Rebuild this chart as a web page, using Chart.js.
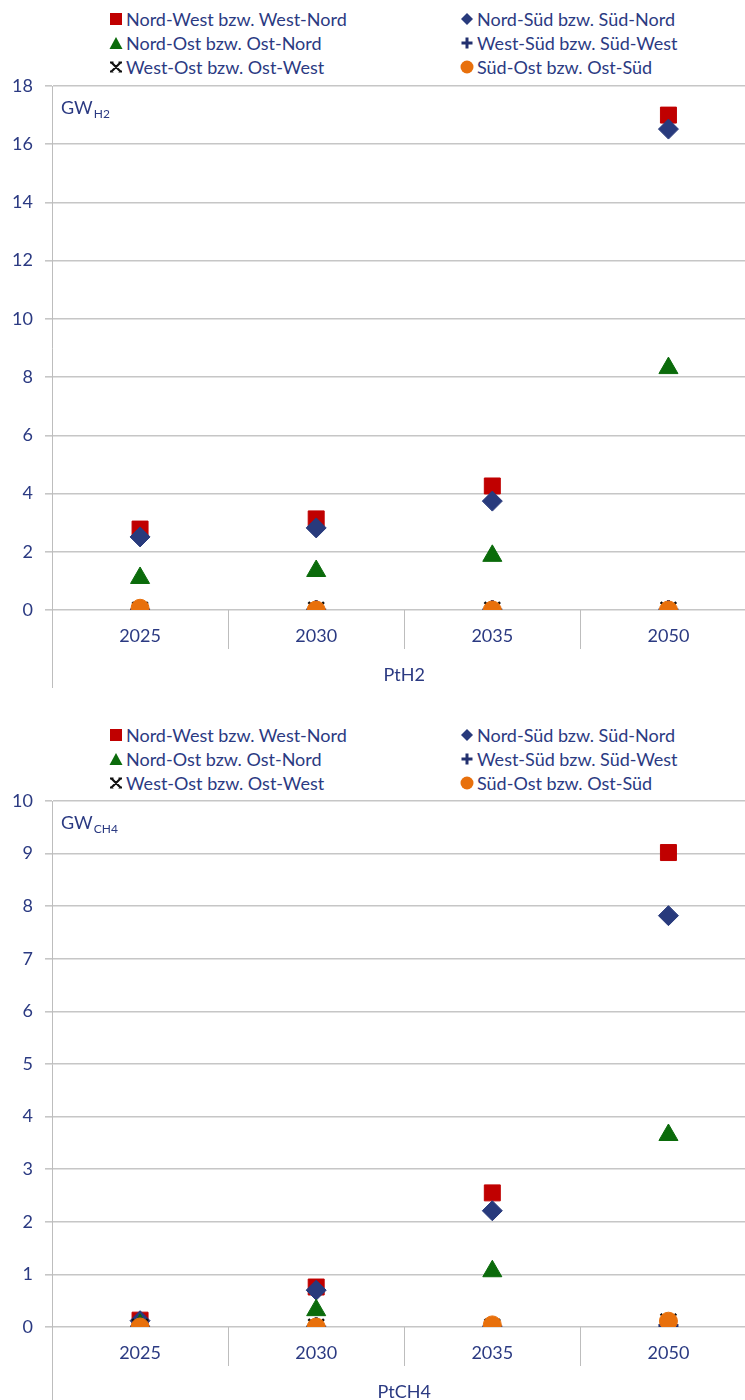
<!DOCTYPE html>
<html lang="de">
<head>
<meta charset="utf-8">
<title>PtH2 / PtCH4 – Transportkapazitäten</title>
<script src="https://cdn.jsdelivr.net/npm/chart.js@4.4.1/dist/chart.umd.min.js"></script>
<style>
  html, body { margin: 0; padding: 0; background: #ffffff; }
  body { width: 745px; height: 1400px; overflow: hidden; position: relative; font-family: Lato, "Liberation Sans", sans-serif; }
  .block { position: absolute; left: 0; width: 745px; height: 716px; overflow: hidden; }
  .block canvas { position: absolute; left: 0; top: 0; }
  .legend { position: absolute; left: 0; top: 0; width: 745px; height: 80px; }
  .item { position: absolute; height: 24px; display: flex; align-items: center; color: #2b3a82; font-size: 18px; white-space: nowrap; }
  .item svg { position: absolute; left: -17px; top: 5px; }
</style>
</head>
<body>
<div class="block" id="blockH2" style="top:0px;">
  <div class="legend" id="legendH2"></div>
  <canvas id="chartH2" width="770" height="700"></canvas>
</div>
<div class="block" id="blockCH4" style="top:716px;">
  <div class="legend" id="legendCH4"></div>
  <canvas id="chartCH4" width="770" height="700"></canvas>
</div>
<script>
// Categories (years) shared by both panels
const categories = ['2025', '2030', '2035', '2050'];

// Series names (connection between regions)
const seriesNames = [
  'Nord-West bzw. West-Nord',
  'Nord-Süd bzw. Süd-Nord',
  'Nord-Ost bzw. Ost-Nord',
  'West-Süd bzw. Süd-West',
  'West-Ost bzw. Ost-West',
  'Süd-Ost bzw. Ost-Süd'
];

// PtH2 capacities in GW (H2)
const h2NordWest = [2.78, 3.13, 4.26, 17.0];
const h2NordSued = [2.51, 2.82, 3.74, 16.52];
const h2NordOst  = [1.10, 1.34, 1.86, 8.31];
const h2WestSued = [0, 0, 0, 0];
const h2WestOst  = [0, 0, 0, 0];
const h2SuedOst  = [0.06, 0, 0, 0];

// PtCH4 capacities in GW (CH4)
const ch4NordWest = [0.13, 0.76, 2.55, 9.02];
const ch4NordSued = [0.12, 0.70, 2.21, 7.82];
const ch4NordOst  = [0.04, 0.32, 1.06, 3.65];
const ch4WestSued = [0, 0, 0, 0.03];
const ch4WestOst  = [0, 0, 0, 0.10];
const ch4SuedOst  = [0, 0, 0.04, 0.11];

// Y axis ranges / tick steps
const h2AxisMax = 18, h2AxisStep = 2;
const ch4AxisMax = 10, ch4AxisStep = 1;

const TEXT = '#2b3a82';
const FONT = 'Lato, "Liberation Sans", sans-serif';

// Marker styling per series
const markers = [
  { style: 'rect',     color: '#c00000', radius: 11.3, width: 1 },
  { style: 'rectRot',  color: '#283a7c', radius: 10,   width: 1 },
  { style: 'triangle', color: '#0b6b0b', radius: 11,   width: 1 },
  { style: 'cross',    color: '#22306f', radius: 10,   width: 3 },
  { style: 'crossRot', color: '#111111', radius: 11,   width: 2.5 },
  { style: 'circle',   color: '#e8700c', radius: 9,    width: 1 }
];

// Small SVG legend symbols
function legendSymbol(i) {
  const c = markers[i].color;
  const shapes = [
    `<rect x="1" y="1" width="12" height="12" fill="${c}"/>`,
    `<polygon points="7,1 13,7 7,13 1,7" fill="${c}"/>`,
    `<polygon points="7,1 13.5,13 0.5,13" fill="${c}"/>`,
    `<path d="M7 1.5 V12.5 M1.5 7 H12.5" stroke="${c}" stroke-width="3"/>`,
    `<path d="M2.5 2.5 L11.5 11.5 M11.5 2.5 L2.5 11.5 M1 2.5 H4.5 M9.5 2.5 H13 M1 11.5 H4.5 M9.5 11.5 H13" stroke="${c}" stroke-width="2.2"/>`,
    `<circle cx="7" cy="7" r="6.5" fill="${c}"/>`
  ];
  return `<svg width="14" height="14" viewBox="0 0 14 14">${shapes[i]}</svg>`;
}

function buildLegend(id) {
  const el = document.getElementById(id);
  const colX = [126, 477];
  const rowY = [7, 31, 55];
  seriesNames.forEach((name, i) => {
    const d = document.createElement('div');
    d.className = 'item';
    d.style.left = colX[i % 2] + 'px';
    d.style.top = rowY[Math.floor(i / 2)] + 'px';
    d.innerHTML = legendSymbol(i) + '<span>' + name + '</span>';
    el.appendChild(d);
  });
}

// Category separators below the axis, extended y axis line and unit label
const axisDecor = {
  id: 'axisDecor',
  afterDraw(chart, args, opts) {
    const { ctx, chartArea, scales } = chart;
    const x = scales.x;
    ctx.save();
    ctx.strokeStyle = '#bdbdbd';
    ctx.lineWidth = 1;
    ctx.beginPath();
    for (let i = 0; i < x.ticks.length - 1; i++) {
      const px = Math.round((x.getPixelForTick(i) + x.getPixelForTick(i + 1)) / 2) + 0.5;
      ctx.moveTo(px, chartArea.bottom);
      ctx.lineTo(px, chartArea.bottom + 39);
    }
    const ax = Math.round(chartArea.left) + 0.5;
    ctx.moveTo(ax, chartArea.bottom);
    ctx.lineTo(ax, x.bottom);
    ctx.stroke();

    // unit label "GW" with subscript
    ctx.fillStyle = TEXT;
    ctx.textBaseline = 'alphabetic';
    ctx.textAlign = 'left';
    ctx.font = '18px ' + FONT;
    const lx = chartArea.left + 9, ly = chartArea.top + 28;
    ctx.fillText('GW', lx, ly);
    const w = ctx.measureText('GW').width;
    ctx.font = '12px ' + FONT;
    ctx.fillText(opts.sub, lx + w + 1, ly + 4);
    ctx.restore();
  }
};

function makeChart(canvasId, seriesValues, axisMax, axisStep, groupLabel, unitSub, padTop, padBottom) {
  const datasets = seriesValues.map((vals, i) => ({
    label: seriesNames[i],
    data: vals,
    showLine: false,
    pointStyle: markers[i].style,
    pointRadius: markers[i].radius,
    pointHoverRadius: markers[i].radius,
    pointBackgroundColor: markers[i].color,
    pointBorderColor: markers[i].color,
    pointBorderWidth: markers[i].width,
    borderColor: markers[i].color,
    backgroundColor: markers[i].color,
    order: seriesValues.length - i
  }));

  return new Chart(document.getElementById(canvasId), {
    type: 'line',
    data: { labels: categories, datasets },
    plugins: [axisDecor],
    options: {
      responsive: false,
      devicePixelRatio: 1,
      animation: false,
      layout: { padding: { top: padTop, bottom: padBottom, left: 0, right: 3 } },
      plugins: {
        legend: { display: false },
        tooltip: { enabled: false },
        axisDecor: { sub: unitSub }
      },
      scales: {
        x: {
          type: 'category',
          offset: true,
          grid: { display: false, drawTicks: false },
          border: { display: false },
          ticks: { color: TEXT, font: { family: FONT, size: 18 }, padding: 15, maxRotation: 0 },
          title: { display: true, text: groupLabel, color: TEXT, font: { family: FONT, size: 18 }, padding: { top: 0, bottom: 2 } },
          afterFit(scale) { scale.height = 78; }
        },
        y: {
          min: 0,
          max: axisMax,
          ticks: { stepSize: axisStep, color: TEXT, font: { family: FONT, size: 18 }, padding: 12 },
          grid: { color: '#c6c6c6', lineWidth: 1.6, drawTicks: true, tickLength: 7, tickColor: '#c6c6c6' },
          border: { display: true, color: '#bdbdbd', width: 1 },
          afterFit(scale) { scale.width = 52; }
        }
      }
    }
  });
}

buildLegend('legendH2');
buildLegend('legendCH4');

makeChart('chartH2',
  [h2NordWest, h2NordSued, h2NordOst, h2WestSued, h2WestOst, h2SuedOst],
  h2AxisMax, h2AxisStep, 'PtH2', 'H2', 86, 12);

makeChart('chartCH4',
  [ch4NordWest, ch4NordSued, ch4NordOst, ch4WestSued, ch4WestOst, ch4SuedOst],
  ch4AxisMax, ch4AxisStep, 'PtCH4', 'CH4', 85, 11);
</script>
</body>
</html>
